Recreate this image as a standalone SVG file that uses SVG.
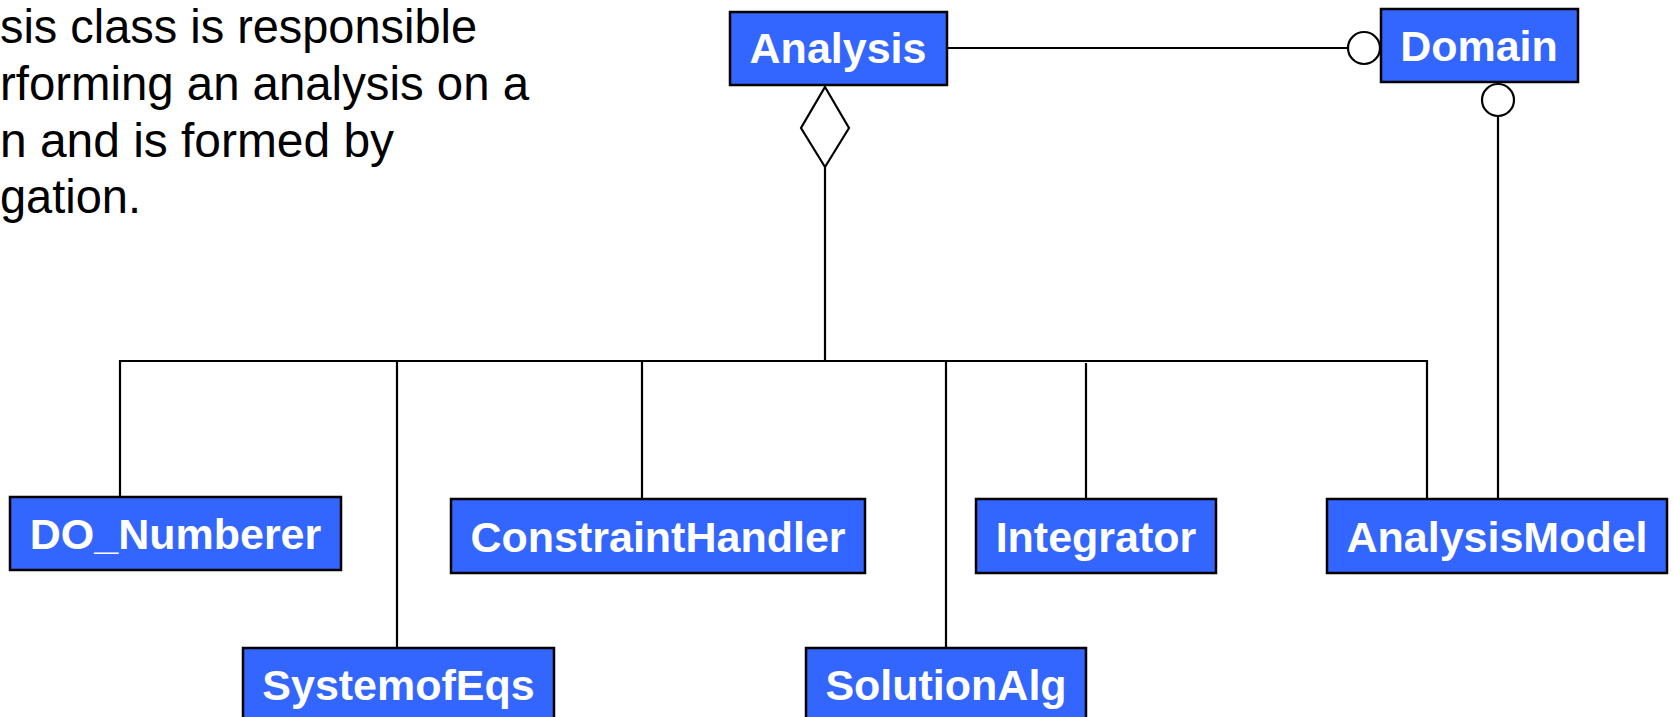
<svg xmlns="http://www.w3.org/2000/svg" width="1674" height="717" viewBox="0 0 1674 717">
<style>
.box{fill:#3366ff;stroke:#000;stroke-width:2.5}
.lbl{font-family:"Liberation Sans",Arial,sans-serif;font-weight:bold;font-size:43px;fill:#fff;text-anchor:middle}
.note{font-family:"Liberation Sans",Arial,sans-serif;font-size:48px;fill:#000;text-anchor:start}
.ln{fill:none;stroke:#000;stroke-width:2.2}
.end{fill:#fff;stroke:#000;stroke-width:2.2}
</style>
<rect width="1674" height="717" fill="#fff"/>
<g id="note">
<text class="note" x="0" y="43" textLength="477" lengthAdjust="spacingAndGlyphs">sis class is responsible</text>
<text class="note" x="0" y="100" textLength="529" lengthAdjust="spacingAndGlyphs">rforming an analysis on a</text>
<text class="note" x="0" y="157" textLength="394" lengthAdjust="spacingAndGlyphs">n and is formed by</text>
<text class="note" x="0" y="213" textLength="141" lengthAdjust="spacingAndGlyphs">gation.</text>
</g>
<g id="connectors">
<line class="ln" x1="947" y1="48" x2="1348" y2="48"/>
<circle class="end" cx="1364" cy="48" r="16"/>
<circle class="end" cx="1498" cy="100" r="16"/>
<line class="ln" x1="1498" y1="116" x2="1498" y2="498"/>
<polygon class="end" points="825,87 849,128 825,167 801,128"/>
<line class="ln" x1="825" y1="167" x2="825" y2="361"/>
<polyline class="ln" points="120,498 120,361 1427,361 1427,498"/>
<line class="ln" x1="397" y1="361" x2="397" y2="648"/>
<line class="ln" x1="642" y1="361" x2="642" y2="499"/>
<line class="ln" x1="946" y1="361" x2="946" y2="648"/>
<line class="ln" x1="1086" y1="363" x2="1086" y2="499"/>
</g>
<g id="Analysis"><rect class="box" x="730" y="12" width="217" height="73"/><text class="lbl" x="838" y="63">Analysis</text></g>
<g id="Domain"><rect class="box" x="1381" y="9" width="197" height="73"/><text class="lbl" x="1479" y="61">Domain</text></g>
<g id="DO_Numberer"><rect class="box" x="10" y="497" width="331" height="73"/><text class="lbl" x="175.5" y="549">DO_Numberer</text></g>
<g id="ConstraintHandler"><rect class="box" x="451" y="499" width="414" height="74"/><text class="lbl" x="658" y="552">ConstraintHandler</text></g>
<g id="Integrator"><rect class="box" x="976" y="499" width="240" height="74"/><text class="lbl" x="1096" y="552">Integrator</text></g>
<g id="AnalysisModel"><rect class="box" x="1327" y="499" width="340" height="74"/><text class="lbl" x="1497" y="552">AnalysisModel</text></g>
<g id="SystemofEqs"><rect class="box" x="243" y="648" width="311" height="80"/><text class="lbl" x="398.5" y="700">SystemofEqs</text></g>
<g id="SolutionAlg"><rect class="box" x="806" y="648" width="280" height="80"/><text class="lbl" x="946" y="700">SolutionAlg</text></g>
</svg>
